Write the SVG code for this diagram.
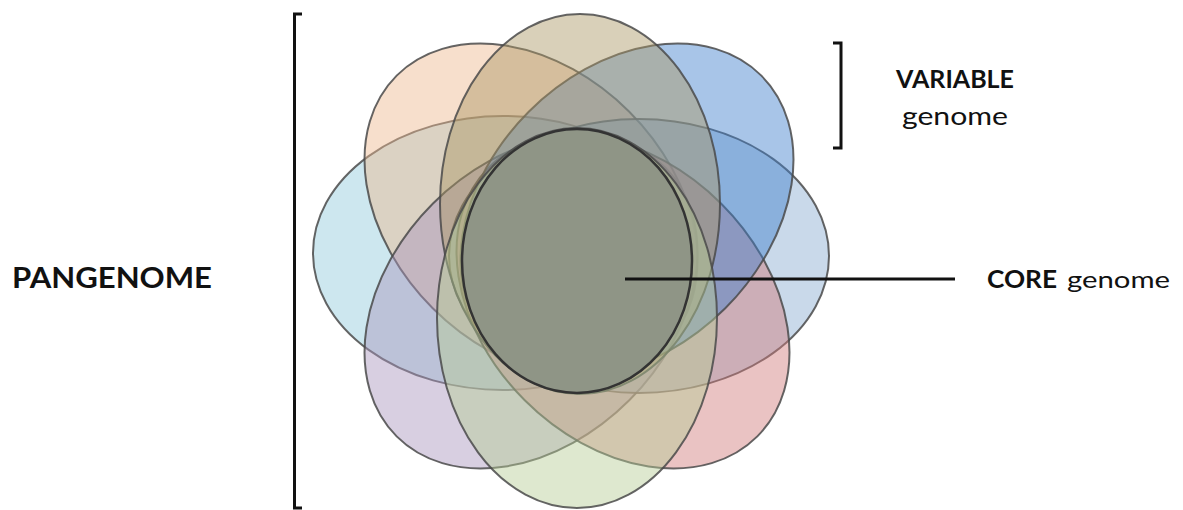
<svg xmlns="http://www.w3.org/2000/svg" width="1183" height="510" viewBox="0 0 1183 510">
  <style>
    .petal { stroke: #4a4a4a; stroke-width: 2; stroke-opacity: 0.85; fill-opacity: 0.45; }
    .core { fill: #8f9586; stroke: #333333; stroke-width: 2.5; }
    .bracket { fill: none; stroke: #111111; stroke-width: 3; }
    .conn { stroke: #111111; stroke-width: 3; }
    .lbl { font-family: Lato, "Liberation Sans", sans-serif; fill: #111111; }
    .b { font-weight: bold; }
  </style>
  <rect width="1183" height="510" fill="#ffffff"/>

  <g id="petal-cyan"><ellipse class="petal" cx="503" cy="253" rx="190" ry="137" fill="#90cadb"/></g>
  <g id="petal-orange"><ellipse class="petal" cx="0" cy="0" rx="190" ry="139" fill="#edb88e" transform="translate(531 210) rotate(45)"/></g>
  <g id="petal-purple"><ellipse class="petal" cx="0" cy="0" rx="190" ry="139" fill="#a894bc" transform="translate(531 302) rotate(-45)"/></g>
  <g id="petal-steel"><ellipse class="petal" cx="639" cy="256" rx="190" ry="137" fill="#87abd0"/></g>
  <g id="petal-pink"><ellipse class="petal" cx="0" cy="0" rx="190" ry="139" fill="#d07a7a" transform="translate(623 302) rotate(45)"/></g>
  <g id="petal-blue"><ellipse class="petal" cx="0" cy="0" rx="190" ry="139" fill="#3e7ecc" transform="translate(627 210) rotate(-45)"/></g>
  <g id="petal-tan"><ellipse class="petal" cx="580" cy="204" rx="140" ry="190" fill="#ab9763"/></g>
  <g id="petal-green"><ellipse class="petal" cx="577" cy="318" rx="140" ry="190" fill="#b6cc94"/></g>

  <g id="core"><ellipse class="core" cx="577" cy="261" rx="115" ry="132"/></g>

  <g id="bracket-pangenome"><path class="bracket" d="M302 14 H294.5 V508 H302"/></g>
  <g id="bracket-variable"><path class="bracket" d="M833 43 H841 V148 H833"/></g>

  <g id="connectors">
    <line class="conn" x1="625" y1="279" x2="955" y2="279"/>
  </g>

  <g id="label-pangenome"><text class="lbl b" x="12" y="288" font-size="29" textLength="200" lengthAdjust="spacingAndGlyphs">PANGENOME</text></g>
  <g id="label-variable">
    <text class="lbl b" x="896" y="88" font-size="25" textLength="118" lengthAdjust="spacingAndGlyphs">VARIABLE</text>
    <text class="lbl" x="902" y="125" font-size="25" textLength="106" lengthAdjust="spacingAndGlyphs">genome</text>
  </g>
  <g id="label-core">
    <text class="lbl b" x="987" y="288" font-size="24" textLength="70" lengthAdjust="spacingAndGlyphs">CORE</text>
    <text class="lbl" x="1067" y="288" font-size="24" textLength="103" lengthAdjust="spacingAndGlyphs">genome</text>
  </g>
</svg>
